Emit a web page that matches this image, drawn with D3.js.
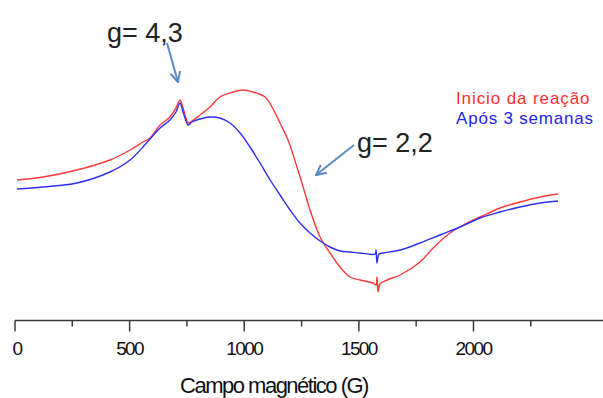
<!DOCTYPE html>
<html><head><meta charset="utf-8">
<script src="https://cdn.jsdelivr.net/npm/d3@7/dist/d3.min.js"></script>
<style>body{margin:0;background:#fff}svg{display:block}</style>
</head><body>
<svg id="c" width="603" height="398"></svg>
<script>
// Field values (G) and signal intensity (arb. units)
const redField = [9,122,270,414,502,558,589,633,676,702,720,733,746,755,772,807,851,894,951,995,1038,1091,1121,1156,1191,1230,1257,1287,1331,1374,1418,1462,1505,1562,1575,1579,1584,1592,1623,1680,1767,1824,1898,1972,2029,2116,2203,2291,2369];
const redSignal = [140,143,150,160,170,178,182,195,203,212,220,212,202,197,199,205,213,223,228,230,228,223,213,197,180,153,133,110,83,67,53,43,40,37,35,43,28,36,40,45,58,72,87,97,103,112,118,123,126];
const blueField = [9,122,270,414,502,558,633,676,702,720,733,746,755,772,807,851,894,938,982,1025,1069,1113,1156,1200,1243,1287,1331,1374,1418,1462,1505,1571,1575,1579,1588,1606,1680,1767,1854,1942,2029,2116,2203,2291,2369];
const blueSignal = [131,133,137,148,160,173,192,200,208,217,208,199,195,198,201,203,202,197,187,173,157,140,125,110,97,87,79,73,69,68,67,66,70,57,66,67,70,77,85,93,102,108,113,117,119];
const xTicks = [0,500,1000,1500,2000];
const xMinor = [250,750,1250,1750,2250];
const seriesNames = ["Inicio da reação","Após 3 semanas"];
const annotations = ["g= 4,3","g= 2,2"];

const svg = d3.select("#c");
const x = d3.scaleLinear().domain([0,2565]).range([15,603]);
const y = d3.scaleLinear().domain([0,320]).range([320,0]);

const line = d3.line().x(d=>x(d[0])).y(d=>y(d[1])).curve(d3.curveCatmullRom.alpha(0.5));
const red = redField.map((f,i)=>[f,redSignal[i]]);
const blue = blueField.map((f,i)=>[f,blueSignal[i]]);

svg.append("path").attr("d",line(red)).attr("fill","none").attr("stroke","#ff3a3a").attr("stroke-width",1.4);
svg.append("path").attr("d",line(blue)).attr("fill","none").attr("stroke","#2f2ff2").attr("stroke-width",1.4);

// axis
const ax = svg.append("g").attr("transform","translate(0,320.5)");
ax.append("line").attr("x1",x(0)).attr("x2",603).attr("stroke","#3a3a3a").attr("stroke-width",1.5);
ax.selectAll(".maj").data(xTicks).join("line").attr("x1",d=>x(d)).attr("x2",d=>x(d)).attr("y1",0).attr("y2",11).attr("stroke","#3a3a3a").attr("stroke-width",1.5);
ax.selectAll(".min").data(xMinor).join("line").attr("x1",d=>x(d)).attr("x2",d=>x(d)).attr("y1",0).attr("y2",6).attr("stroke","#3a3a3a").attr("stroke-width",1.5);
ax.selectAll(".lab").data(xTicks).join("text").attr("x",d=>x(d)+ (d===0?2:0)).attr("y",34.5)
  .attr("text-anchor","middle").attr("font-family","Liberation Sans, Arial, sans-serif").attr("font-size",19)
  .attr("letter-spacing","-1.6").attr("fill","#111").text(d=>d);
svg.append("text").attr("x",274).attr("y",393).attr("text-anchor","middle")
  .attr("font-family","Liberation Sans, Arial, sans-serif").attr("font-size",22).attr("letter-spacing","-1.5")
  .attr("fill","#111").text("Campo magnético (G)");

// legend
svg.append("text").attr("x",456).attr("y",104).attr("font-family","Liberation Sans, Arial, sans-serif").attr("font-size",17)
  .attr("letter-spacing","0.9").attr("fill","#ff3030").text(seriesNames[0]);
svg.append("text").attr("x",456).attr("y",124).attr("font-family","Liberation Sans, Arial, sans-serif").attr("font-size",17)
  .attr("letter-spacing","0.8").attr("fill","#2424ee").text(seriesNames[1]);

// annotations
svg.append("text").attr("x",107).attr("y",42).attr("font-family","Liberation Sans, Arial, sans-serif").attr("font-size",27)
  .attr("fill","#222").text(annotations[0]);
svg.append("text").attr("x",357).attr("y",152).attr("font-family","Liberation Sans, Arial, sans-serif").attr("font-size",27)
  .attr("fill","#222").text(annotations[1]);

const defs = svg.append("defs");
defs.append("marker").attr("id","ah").attr("viewBox","0 0 12 12").attr("refX",11).attr("refY",6)
  .attr("markerWidth",12).attr("markerHeight",12).attr("markerUnits","userSpaceOnUse").attr("orient","auto")
  .append("path").attr("d","M1,1 L11,6 L1,11").attr("fill","none").attr("stroke","#5b8bc6").attr("stroke-width",2);
svg.append("line").attr("x1",167).attr("y1",43).attr("x2",178).attr("y2",82).attr("stroke","#5b8bc6").attr("stroke-width",2).attr("marker-end","url(#ah)");
svg.append("line").attr("x1",354).attr("y1",145).attr("x2",316).attr("y2",175).attr("stroke","#5b8bc6").attr("stroke-width",2).attr("marker-end","url(#ah)");
</script>
</body></html>
